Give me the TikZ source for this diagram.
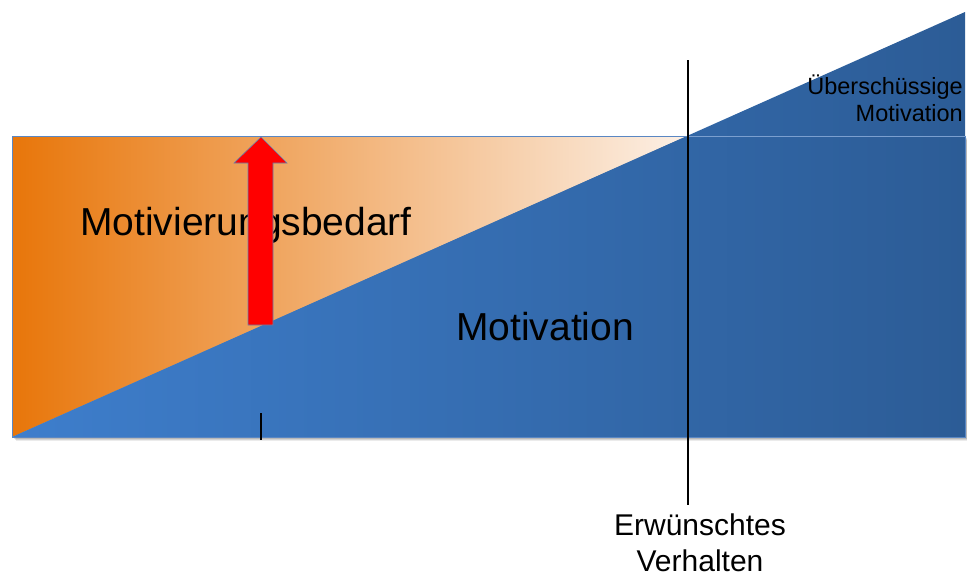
\documentclass[tikz,border=0pt]{standalone}
\usepackage{fontspec}
\setmainfont{Liberation Sans}
\definecolor{orL}{RGB}{232,118,10}
\definecolor{orR}{RGB}{252,240,230}
\definecolor{blL}{RGB}{62,126,204}
\definecolor{blR}{RGB}{44,92,150}
\definecolor{edge}{RGB}{90,135,195}
\definecolor{arrowred}{RGB}{255,0,0}
\tikzset{
  bigtext/.style={font=\fontsize{39}{42}\selectfont, inner sep=0pt},
  smalltext/.style={font=\fontsize{23.5}{27}\selectfont, inner sep=0pt, align=right},
  midtext/.style={font=\fontsize{30}{36}\selectfont, inner sep=0pt, align=center},
  blackline/.style={line width=2.6pt, black},
}
\begin{document}
\begin{tikzpicture}[x=1pt,y=-1pt]
\useasboundingbox (0,0) rectangle (967,579);
% shadow
\foreach \o/\a in {4/0.08,3/0.10,2/0.12,1/0.14}{
  \fill[black,opacity=\a] (12+\o,136+\o) rectangle (965+\o,437+\o);
}
% orange part
\shade[left color=orL, right color=orR] (12,437) -- (12,136) -- (687,136) -- cycle;
% blue part
\shade[left color=blL, right color=blR] (12,437) -- (965,12) -- (965,437) -- cycle;
% frame
\draw[edge, line width=0.8pt] (12,136) rectangle (965,437);
\draw[edge!80!white, line width=1pt] (687,136) -- (965,136);
% texts
\node[bigtext, anchor=base west] (bedarf) at (80,235) {Motivierungsbedarf};
\node[bigtext, anchor=base west] (motiv) at (456,340) {Motivation};
\node[smalltext, anchor=base east] (ueber) at (963,121) {Überschüssige\\Motivation};
\node[midtext, anchor=base] (erw) at (700,571) {Erwünschtes\\Verhalten};
% red arrow
\filldraw[fill=arrowred, draw=edge!70!gray, line width=0.6pt]
  (248,325) -- (248,163) -- (234,163) -- (261,137) -- (287,163) -- (273,163) -- (273,325) -- cycle;
% lines
\coordinate (vtop) at (688,60);
\coordinate (vbot) at (688,505);
\draw[blackline] (vtop) -- (vbot);
\coordinate (ttop) at (261,413);
\coordinate (tbot) at (261,440);
\draw[blackline] (ttop) -- (tbot);
\end{tikzpicture}
\end{document}
